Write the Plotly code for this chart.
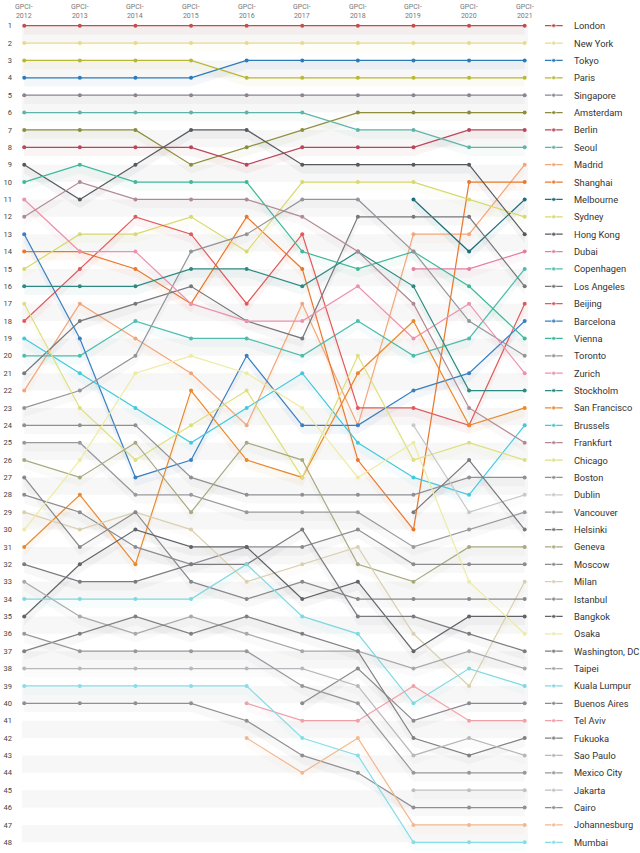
import plotly.graph_objects as go

YEARS = ["2012", "2013", "2014", "2015", "2016", "2017", "2018", "2019", "2020", "2021"]
N = None

LONDON = [1, 1, 1, 1, 1, 1, 1, 1, 1, 1]
NEW_YORK = [2, 2, 2, 2, 2, 2, 2, 2, 2, 2]
TOKYO = [4, 4, 4, 4, 3, 3, 3, 3, 3, 3]
PARIS = [3, 3, 3, 3, 4, 4, 4, 4, 4, 4]
SINGAPORE = [5, 5, 5, 5, 5, 5, 5, 5, 5, 5]
AMSTERDAM = [7, 7, 7, 9, 8, 7, 6, 6, 6, 6]
BERLIN = [8, 8, 8, 8, 9, 8, 8, 8, 7, 7]
SEOUL = [6, 6, 6, 6, 6, 6, 7, 7, 8, 8]
MADRID = [22, 17, 19, 21, 24, 17, 24, 13, 13, 9]
SHANGHAI = [14, 14, 15, 17, 12, 15, 26, 30, 10, 10]
MELBOURNE = [N, N, N, N, N, N, N, 11, 14, 11]
SYDNEY = [15, 13, 13, 12, 14, 10, 10, 10, 11, 12]
HONG_KONG = [9, 11, 9, 7, 7, 9, 9, 9, 9, 13]
DUBAI = [N, N, N, N, N, N, N, 15, 15, 14]
COPENHAGEN = [20, 20, 18, 19, 19, 20, 18, 20, 19, 15]
LOS_ANGELES = [21, 18, 17, 16, 18, 19, 12, 12, 12, 16]
BEIJING = [18, 15, 12, 13, 17, 13, 23, 23, 24, 17]
BARCELONA = [13, 19, 27, 26, 20, 24, 24, 22, 21, 18]
VIENNA = [10, 9, 10, 10, 10, 14, 15, 14, 16, 19]
TORONTO = [23, 22, 20, 14, 13, 11, 11, 14, 18, 20]
ZURICH = [11, 14, 14, 17, 18, 18, 16, 19, 17, 21]
STOCKHOLM = [16, 16, 16, 15, 15, 16, 14, 16, 22, 22]
SAN_FRANCISCO = [31, 28, 32, 22, 26, 27, 21, 18, 24, 23]
BRUSSELS = [19, 21, 23, 25, 23, 21, 25, 27, 28, 24]
FRANKFURT = [12, 10, 11, 11, 11, 12, 14, 17, 23, 25]
CHICAGO = [17, 23, 26, 24, 22, 27, 20, 26, 25, 26]
BOSTON = [24, 24, 24, 27, 28, 28, 28, 28, 27, 27]
DUBLIN = [N, N, N, N, N, N, N, 24, 29, 28]
VANCOUVER = [25, 25, 28, 28, 29, 29, 29, 31, 30, 29]
HELSINKI = [N, N, N, N, N, N, N, 29, 26, 30]
GENEVA = [26, 27, 25, 29, 25, 26, 32, 33, 31, 31]
MOSCOW = [28, 29, 31, 32, 31, 31, 30, 32, 32, 32]
MILAN = [29, 30, 29, 30, 33, 32, 31, 36, 39, 33]
ISTANBUL = [27, 31, 29, 33, 34, 33, 34, 34, 34, 34]
BANGKOK = [35, 32, 30, 31, 31, 34, 33, 37, 35, 35]
OSAKA = [30, 26, 21, 20, 21, 23, 27, 25, 33, 36]
WASHINGTON = [32, 33, 33, 32, 32, 30, 35, 35, 36, 37]
TAIPEI = [33, 35, 36, 35, 36, 37, 37, 38, 37, 38]
KUALA_LUMPUR = [34, 34, 34, 34, 32, 35, 36, 40, 38, 39]
BUENOS_AIRES = [N, N, N, N, N, 40, 38, 41, 40, 40]
TEL_AVIV = [N, N, N, N, 40, 41, 41, 39, 41, 41]
FUKUOKA = [37, 36, 35, 36, 35, 36, 37, 42, 43, 42]
SAO_PAULO = [38, 38, 38, 38, 38, 38, 39, 43, 42, 43]
MEXICO_CITY = [36, 37, 37, 37, 37, 39, 40, 44, 44, 44]
JAKARTA = [N, N, N, N, N, N, N, 45, 45, 45]
CAIRO = [40, 40, 40, 40, 41, 43, 44, 46, 46, 46]
JOHANNESBURG = [N, N, N, N, 42, 44, 42, 47, 47, 47]
MUMBAI = [39, 39, 39, 39, 39, 42, 43, 48, 48, 48]

CITY_NAMES = ["London", "New York", "Tokyo", "Paris", "Singapore", "Amsterdam", "Berlin", "Seoul",
              "Madrid", "Shanghai", "Melbourne", "Sydney", "Hong Kong", "Dubai", "Copenhagen",
              "Los Angeles", "Beijing", "Barcelona", "Vienna", "Toronto", "Zurich", "Stockholm",
              "San Francisco", "Brussels", "Frankfurt", "Chicago", "Boston", "Dublin", "Vancouver",
              "Helsinki", "Geneva", "Moscow", "Milan", "Istanbul", "Bangkok", "Osaka",
              "Washington, DC", "Taipei", "Kuala Lumpur", "Buenos Aires", "Tel Aviv", "Fukuoka",
              "Sao Paulo", "Mexico City", "Jakarta", "Cairo", "Johannesburg", "Mumbai"]

CITY_RANKS = [LONDON, NEW_YORK, TOKYO, PARIS, SINGAPORE, AMSTERDAM, BERLIN, SEOUL, MADRID, SHANGHAI,
              MELBOURNE, SYDNEY, HONG_KONG, DUBAI, COPENHAGEN, LOS_ANGELES, BEIJING, BARCELONA,
              VIENNA, TORONTO, ZURICH, STOCKHOLM, SAN_FRANCISCO, BRUSSELS, FRANKFURT, CHICAGO,
              BOSTON, DUBLIN, VANCOUVER, HELSINKI, GENEVA, MOSCOW, MILAN, ISTANBUL, BANGKOK, OSAKA,
              WASHINGTON, TAIPEI, KUALA_LUMPUR, BUENOS_AIRES, TEL_AVIV, FUKUOKA, SAO_PAULO,
              MEXICO_CITY, JAKARTA, CAIRO, JOHANNESBURG, MUMBAI]

COLORS = ["#c0504d", "#e6db8c", "#2b7bba", "#b8b832", "#8a8591", "#8c8c3c", "#b9465a", "#5fb3a8",
          "#f2a77a", "#e8782c", "#1f6f7a", "#d8d870", "#555a5f", "#e57fa0", "#4fbcae",
          "#76787c", "#e05a5a", "#3a7fc0", "#3fb89a", "#94959a", "#ea93ab", "#2e8a80",
          "#e8892e", "#44c8dc", "#b08a92", "#dede80", "#8e9094", "#c8c8ca", "#9a9a9e",
          "#7a7a7e", "#a8a882", "#8c8c90", "#d8d0b0", "#88888c", "#606468", "#eeeaa8",
          "#7c7c80", "#a8a8ac", "#7fd8e0", "#8a8a8e", "#f0a0a8", "#808084",
          "#b8b8bc", "#98989c", "#c0c0c4", "#909094", "#f0b890", "#88dce6"]

BAND_ROWS = list(range(1, 48, 2))
RANK_TICKS = list(range(1, 49))


def rgba(hex_color, a):
    h = hex_color.lstrip("#")
    r, g, b = int(h[0:2], 16), int(h[2:4], 16), int(h[4:6], 16)
    return f"rgba({r},{g},{b},{a})"


fig = go.Figure()

for r in BAND_ROWS:
    fig.add_shape(type="rect", xref="x", yref="y", x0=-0.04, x1=9.06, y0=r, y1=r + 1,
                  fillcolor="#f7f7f7", line=dict(width=0), layer="below")

xs_all = list(range(len(YEARS)))

for name, vals, col in zip(CITY_NAMES, CITY_RANKS, COLORS):
    pts = [(i, v) for i, v in zip(xs_all, vals) if v is not None]
    if len(pts) < 2:
        continue
    px = [p[0] for p in pts]
    py = [p[1] for p in pts]
    fig.add_trace(go.Scatter(
        x=px + px[::-1], y=py + [v + 0.5 for v in py[::-1]],
        fill="toself", fillcolor=rgba(col, 0.06), line=dict(width=0),
        mode="lines", hoverinfo="skip", showlegend=False))

for name, vals, col in zip(CITY_NAMES, CITY_RANKS, COLORS):
    fig.add_trace(go.Scatter(
        x=xs_all, y=vals, mode="lines+markers", name=name,
        line=dict(color=col, width=1.2), marker=dict(color=col, size=4),
        showlegend=False, connectgaps=False))

for k, (name, col) in enumerate(zip(CITY_NAMES, COLORS), start=1):
    fig.add_trace(go.Scatter(
        x=[0, 9, 18], y=[k, k, k], xaxis="x2", yaxis="y", mode="lines+markers",
        line=dict(color=col, width=1.2), marker=dict(color=col, size=[0, 4.5, 0]),
        hoverinfo="skip", showlegend=False))
    fig.add_annotation(x=27, y=k, xref="x2", yref="y", text=name, showarrow=False,
                       xanchor="left", yanchor="middle",
                       font=dict(size=9.3, color="#333333", family="Roboto"))

for i, yr in enumerate(YEARS):
    fig.add_annotation(x=i, y=1, xref="x", yref="paper", text="GPCI-<br>" + yr,
                       showarrow=False, xanchor="center", yanchor="bottom", yshift=-5,
                       font=dict(size=7, color="#777777", family="Roboto"))

fig.update_layout(
    width=640, height=853,
    margin=dict(l=22, r=0, t=17, b=2),
    paper_bgcolor="white", plot_bgcolor="white",
    font=dict(family="Roboto", color="#444444"),
    xaxis=dict(domain=[0, 0.8188], range=[-0.04, 9.06], tickvals=xs_all,
               showticklabels=False, automargin=False,
               showgrid=False, zeroline=False, showline=False, ticks=""),
    xaxis2=dict(domain=[0.846, 1.0], range=[0, 95.8], anchor="y", visible=False),
    yaxis=dict(range=[48.5, 0.5], tickvals=RANK_TICKS, ticktext=[str(t) for t in RANK_TICKS],
               showgrid=False, zeroline=False, showline=False, ticks="", automargin=False,
               ticklabelstandoff=9,
               tickfont=dict(size=7.5, color="#444444")),
)

fig.write_html("out.html", config={"displayModeBar": False},
               post_script="document.body.style.margin='0';")
